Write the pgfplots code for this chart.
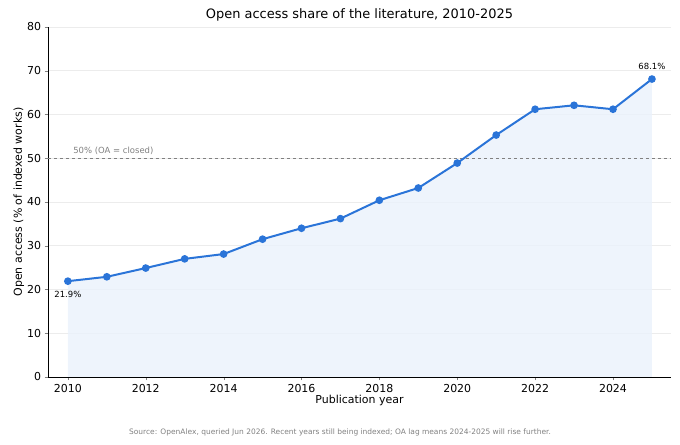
\documentclass[border=0pt]{standalone}
\usepackage{pgfplots}
\pgfplotsset{compat=1.18}
\usepackage{fontspec}
\setmainfont{DejaVu Sans}
\definecolor{lineblue}{HTML}{2A74D8}
\begin{document}
\begin{tikzpicture}[x=1bp,y=1bp]
\useasboundingbox (0,0) rectangle (680,445);
\begin{axis}[
  at={(48bp,68bp)}, anchor=south west,
  scale only axis, width=623bp, height=350bp,
  xmin=2009.49, xmax=2025.49, ymin=0, ymax=80,
  xtick={2010,2012,...,2024}, ytick={0,10,...,80},
  /pgf/number format/assume math mode=true,
  xticklabel style={/pgf/number format/1000 sep={}},
  tick label style={font=\fontsize{11}{13}\selectfont},
  axis x line*=bottom, axis y line*=left,
  tick align=outside, major tick length=3.5bp,
  ymajorgrids, grid style={gray!15, line width=0.5pt},
  xlabel={Publication year}, ylabel={Open access (\% of indexed works)},
  label style={font=\fontsize{11}{13}\selectfont},
  xlabel style={yshift=4bp}, ylabel style={yshift=-4bp},
  title={Open access share of the literature, 2010-2025},
  title style={font=\fontsize{13}{15}\selectfont, yshift=-4bp},
]
\addplot[draw=none, fill=lineblue!10, fill opacity=0.8] coordinates {
(2010,21.9)(2011,22.9)(2012,24.9)(2013,27.0)(2014,28.1)(2015,31.5)(2016,34.0)(2017,36.2)(2018,40.4)(2019,43.2)(2020,48.9)(2021,55.3)(2022,61.2)(2023,62.1)(2024,61.2)(2025,68.1)(2025,0)(2010,0)} \closedcycle;
\addplot[gray, dashed, line width=0.8pt] coordinates {(2009.49,50)(2025.49,50)};
\addplot[lineblue, line width=2pt, mark=*, mark size=2.8pt] coordinates {
(2010,21.9)(2011,22.9)(2012,24.9)(2013,27.0)(2014,28.1)(2015,31.5)(2016,34.0)(2017,36.2)(2018,40.4)(2019,43.2)(2020,48.9)(2021,55.3)(2022,61.2)(2023,62.1)(2024,61.2)(2025,68.1)};
\node[font=\fontsize{8.5}{10}\selectfont, anchor=west, text=gray] at (axis cs:2010.05,51.6) {50\% (OA = closed)};
\node[font=\fontsize{8.5}{10}\selectfont] at (axis cs:2010,18.9) {21.9\%};
\node[font=\fontsize{8.5}{10}\selectfont] at (axis cs:2025,71.1) {68.1\%};
\end{axis}
\node[font=\fontsize{7.5}{9}\selectfont, text=gray] at (340,13) {Source: OpenAlex, queried Jun 2026. Recent years still being indexed; OA lag means 2024-2025 will rise further.};
\end{tikzpicture}
\end{document}
